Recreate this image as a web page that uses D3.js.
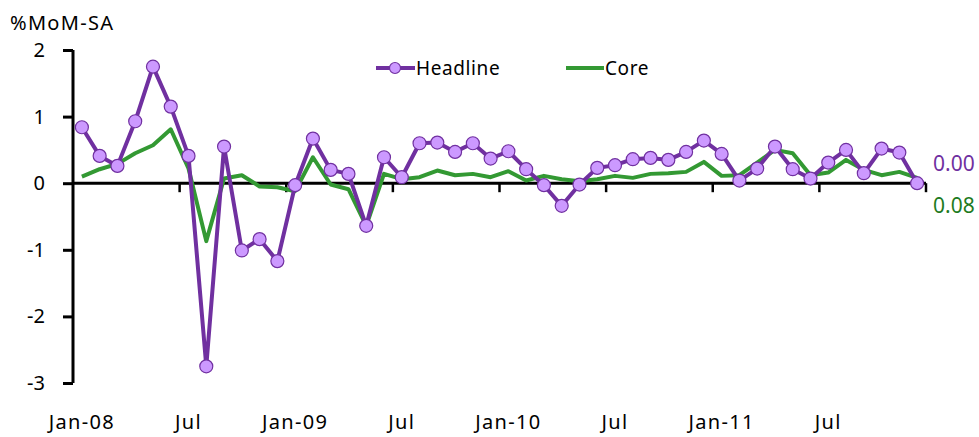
<!DOCTYPE html>
<html>
<head>
<meta charset="utf-8">
<script src="https://cdn.jsdelivr.net/npm/d3@7"></script>
<style>
  body { margin: 0; background: #fff; }
  svg text { font-family: "Noto Sans", "DejaVu Sans", sans-serif; }
</style>
</head>
<body>
<svg id="chart"></svg>
<script>
// Monthly %MoM-SA, Jan-08 .. Dec-11
const months = d3.range(48).map(i => new Date(2008, i, 1));
const headline = [0.84, 0.41, 0.26, 0.93, 1.75, 1.15, 0.41, -2.75, 0.55, -1.01, -0.84, -1.17,
                  -0.03, 0.67, 0.20, 0.14, -0.64, 0.39, 0.09, 0.60, 0.61, 0.47, 0.60, 0.37,
                  0.48, 0.21, -0.03, -0.34, -0.02, 0.23, 0.27, 0.36, 0.38, 0.35, 0.47, 0.64,
                  0.44, 0.04, 0.22, 0.55, 0.21, 0.07, 0.31, 0.50, 0.15, 0.52, 0.46, 0.00];
const core = [0.10, 0.21, 0.29, 0.45, 0.57, 0.81, 0.22, -0.87, 0.07, 0.12, -0.05, -0.06,
              -0.12, 0.39, -0.02, -0.09, -0.64, 0.14, 0.06, 0.09, 0.19, 0.12, 0.14, 0.09,
              0.18, 0.04, 0.11, 0.06, 0.03, 0.06, 0.11, 0.08, 0.14, 0.15, 0.17, 0.32,
              0.11, 0.12, 0.31, 0.50, 0.45, 0.12, 0.16, 0.35, 0.20, 0.12, 0.17, 0.08];
const yTicks = [2, 1, 0, -1, -2, -3];
const xLabels = ["Jan-08", "Jul", "Jan-09", "Jul", "Jan-10", "Jul", "Jan-11", "Jul"];

const purple = "#7030a0", lilac = "#cc99ff", green = "#339933";

const width = 979, height = 437;
const margin = { top: 50, right: 53, bottom: 54, left: 73 };
const innerW = width - margin.left - margin.right;
const innerH = height - margin.top - margin.bottom;

const svg = d3.select("#chart").attr("width", width).attr("height", height);
const g = svg.append("g").attr("transform", `translate(${margin.left},${margin.top})`);

const x = d3.scaleBand().domain(d3.range(months.length)).range([0, innerW]);
const cx = i => x(i) + x.bandwidth() / 2;
const y = d3.scaleLinear().domain([-3, 2]).range([innerH, 0]);

// y axis
const yAxis = g.append("g")
  .call(d3.axisLeft(y).tickValues(yTicks).tickSize(10).tickFormat(d => String(d)));
yAxis.select(".domain").remove();
yAxis.append("line").attr("y1", y(2)).attr("y2", y(-3)).attr("stroke", "#000").attr("stroke-width", 3);
yAxis.selectAll(".tick line").attr("stroke", "#000").attr("stroke-width", 3);
yAxis.selectAll(".tick text").attr("x", -28).attr("font-size", 20).attr("fill", "#000");

// zero line with month ticks every 6 months
const zero = g.append("g").attr("transform", `translate(0,${y(0)})`);
zero.append("line").attr("x1", 0).attr("x2", innerW).attr("stroke", "#000").attr("stroke-width", 3);
zero.selectAll("line.tk")
  .data(d3.range(6, months.length + 1, 6))
  .join("line").attr("class", "tk")
  .attr("x1", i => i * x.step()).attr("x2", i => i * x.step())
  .attr("y1", 0).attr("y2", 9)
  .attr("stroke", "#000").attr("stroke-width", 2.5);

// x labels
g.selectAll("text.xl")
  .data(xLabels)
  .join("text").attr("class", "xl")
  .attr("x", (d, i) => cx(i * 6))
  .attr("y", innerH + 46)
  .attr("text-anchor", "middle")
  .attr("font-size", 20)
  .attr("letter-spacing", 1.3)
  .text(d => d);

// lines
const line = d3.line().x((d, i) => cx(i)).y(d => y(d));
g.append("path").datum(core)
  .attr("fill", "none").attr("stroke", green).attr("stroke-width", 4).attr("stroke-linejoin", "round")
  .attr("d", line);
g.append("path").datum(headline)
  .attr("fill", "none").attr("stroke", purple).attr("stroke-width", 4).attr("stroke-linejoin", "round")
  .attr("d", line);
g.selectAll("circle.hl")
  .data(headline)
  .join("circle").attr("class", "hl")
  .attr("cx", (d, i) => cx(i)).attr("cy", d => y(d)).attr("r", 6.5)
  .attr("fill", lilac).attr("stroke", purple).attr("stroke-width", 1.2);

// end labels
const last = months.length - 1;
svg.append("text").attr("x", 933).attr("y", 171).attr("font-size", 21).attr("fill", purple)
  .text(d3.format(".2f")(headline[last]));
svg.append("text").attr("x", 933).attr("y", 213).attr("font-size", 21).attr("fill", "#1e7b1e")
  .text(d3.format(".2f")(core[last]));

// axis title
svg.append("text").attr("x", 10).attr("y", 30).attr("font-size", 20).attr("letter-spacing", 1.3).text("%MoM-SA");

// legend
const lg = svg.append("g").attr("transform", "translate(376,68)");
lg.append("line").attr("x1", 0).attr("x2", 39).attr("stroke", purple).attr("stroke-width", 4);
lg.append("circle").attr("cx", 19).attr("cy", 0).attr("r", 5.5).attr("fill", lilac).attr("stroke", purple).attr("stroke-width", 1.2);
lg.append("text").attr("x", 40).attr("y", 7).attr("font-size", 19).attr("letter-spacing", 0.6).text("Headline");
lg.append("line").attr("x1", 190).attr("x2", 228).attr("stroke", green).attr("stroke-width", 4);
lg.append("text").attr("x", 229).attr("y", 7).attr("font-size", 19).attr("letter-spacing", 0.6).text("Core");
</script>
</body>
</html>
